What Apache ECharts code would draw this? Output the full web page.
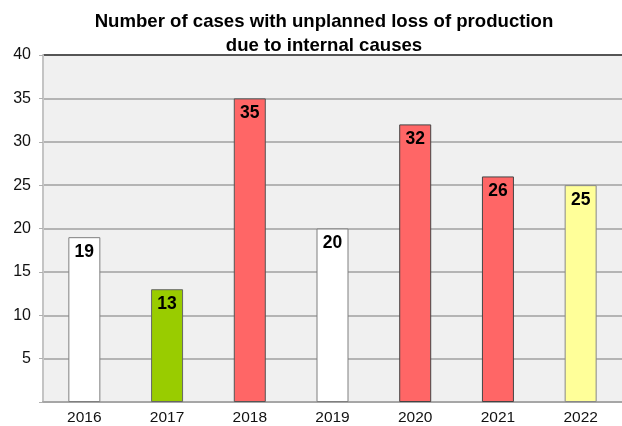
<!DOCTYPE html>
<html>
<head>
<meta charset="utf-8">
<script src="https://cdn.jsdelivr.net/npm/echarts@6/dist/echarts.min.js"></script>
<style>
html, body { margin: 0; padding: 0; background: #fff; }
#chart { width: 622px; height: 426px; }
</style>
</head>
<body>
<div id="chart"></div>
<script>
// 数据
var years = ['2016', '2017', '2018', '2019', '2020', '2021', '2022'];
var cases = [19, 13, 35, 20, 32, 26, 25];
var barColors = ['#ffffff', '#99cc00', '#ff6666', '#ffffff', '#ff6666', '#ff6666', '#ffff99'];
var borderColors = ['#7f7f7f', '#666666', '#555555', '#7f7f7f', '#444444', '#444444', '#888888'];

var dom = document.getElementById('chart');
var myChart = echarts.init(dom);

var data = [];
for (var i = 0; i < years.length; i++) {
	data[i] = {
		value : cases[i],
		itemStyle : {
			color : barColors[i],
			borderColor : borderColors[i],
			borderWidth : 1
		}
	};
}

var option = {
	animation : false,
	backgroundColor : '#ffffff',
	title : {
		text : 'Number of cases with unplanned loss of production\ndue to internal causes',
		left : 319,
		top : 5,
		textAlign : 'center',
		textStyle : {
			fontFamily : 'Liberation Sans, Arial, sans-serif',
			fontSize : 18.6,
			fontWeight : 'bold',
			color : '#000',
			lineHeight : 24
		}
	},
	grid : {
		left : 43,
		right : 0,
		top : 55,
		bottom : 24,
		show : true,
		backgroundColor : '#f0f0f0',
		borderWidth : 0
	},
	xAxis : {
		type : 'category',
		data : years,
		axisLine : { lineStyle : { color : '#a6a6a6', width : 2 } },
		axisTick : { show : false },
		axisLabel : {
			fontFamily : 'Liberation Sans, Arial, sans-serif',
			fontSize : 15.5,
			color : '#111',
			margin : 8
		}
	},
	yAxis : {
		type : 'value',
		min : 0,
		max : 40,
		interval : 5,
		axisLine : { show : true, lineStyle : { color : '#c4c4c4', width : 2 } },
		axisTick : { show : true, length : 4, lineStyle : { color : '#b0b0b0' } },
		axisLabel : {
			fontFamily : 'Liberation Sans, Arial, sans-serif',
			fontSize : 16,
			color : '#111',
			margin : 12,
			formatter : function(v) { return v === 0 ? '' : v; }
		},
		splitLine : {
			lineStyle : {
				color : ['#b4b4b4', '#b4b4b4', '#b4b4b4', '#b4b4b4', '#b4b4b4', '#b4b4b4', '#b4b4b4', '#b4b4b4', '#555555'],
				width : 2
			}
		}
	},
	series : [{
		type : 'bar',
		barWidth : 32,
		data : data,
		label : {
			show : true,
			position : 'insideTop',
			distance : 6,
			fontFamily : 'Liberation Sans, Arial, sans-serif',
			fontSize : 17.5,
			fontWeight : 'bold',
			color : '#000'
		}
	}]
};
myChart.setOption(option);
</script>
</body>
</html>
